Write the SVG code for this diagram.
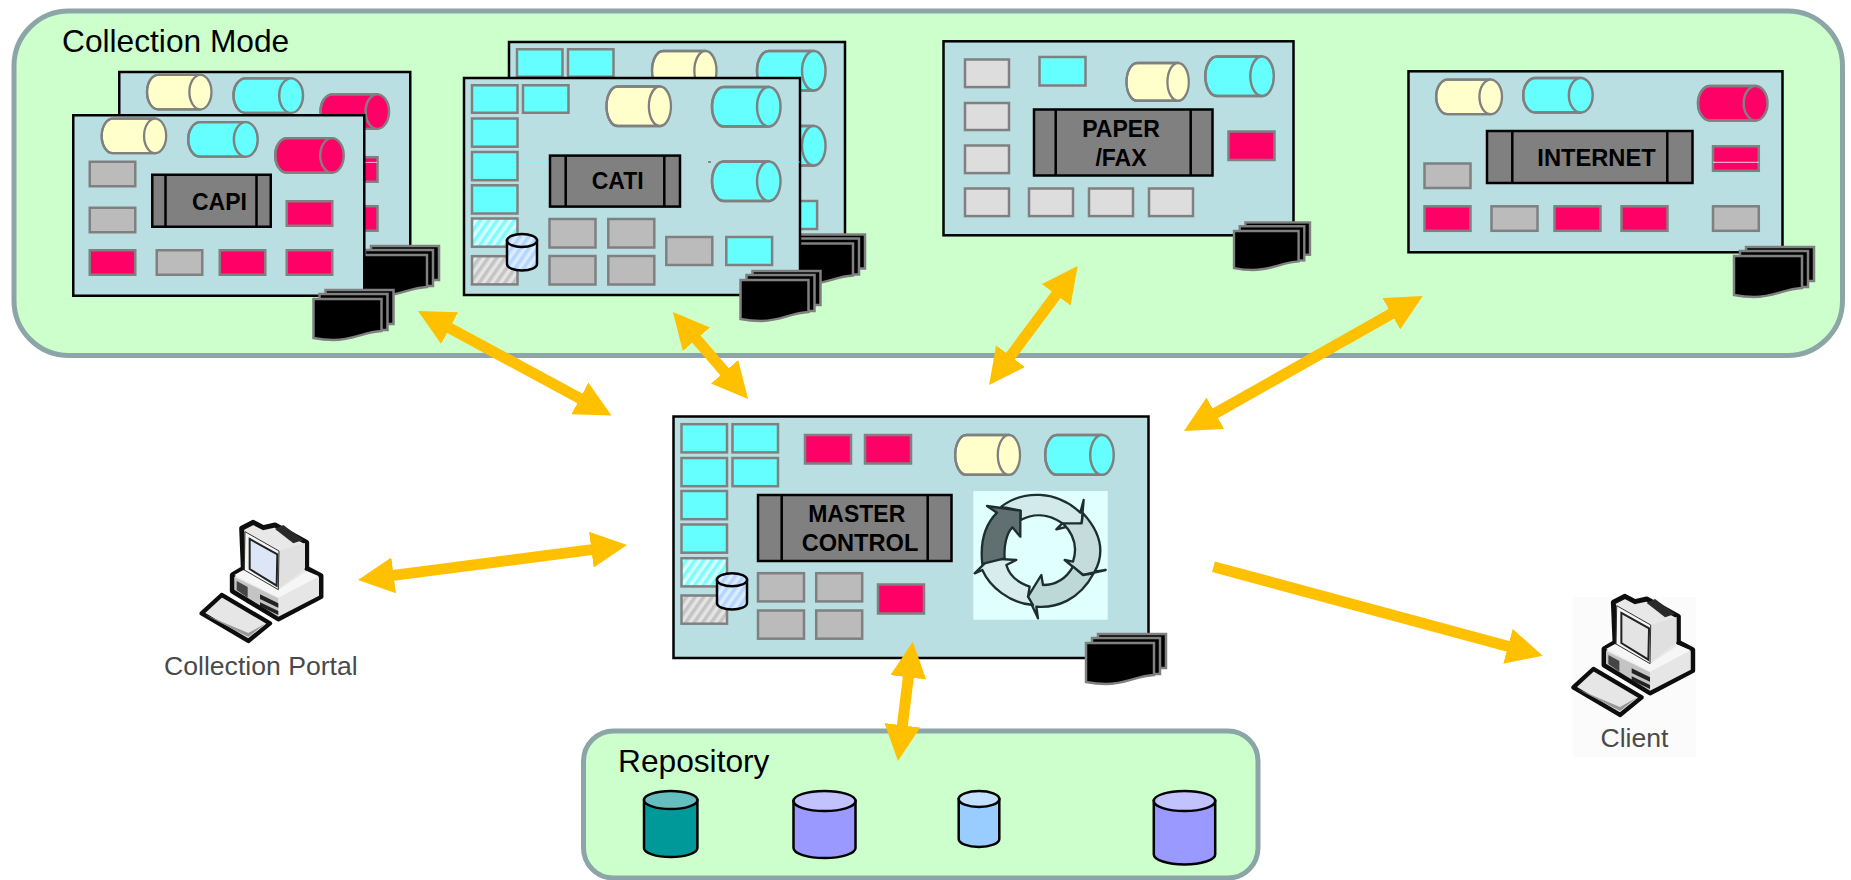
<svg xmlns="http://www.w3.org/2000/svg" width="1851" height="880" viewBox="0 0 1851 880">
<style>
text{font-family:"Liberation Sans",Arial,sans-serif}
.t{font-size:31.7px;fill:#000}
.b{font-size:23px;font-weight:bold;fill:#000}
.m{text-anchor:middle}
.cap{font-size:26.6px;fill:#4a4a4a}
.zone{fill:#ccffcc;stroke:#8ca6a8;stroke-width:5}
.card{fill:#b9dfe2;stroke:#000;stroke-width:2.5}
.bar{fill:#808080;stroke:#000;stroke-width:2.5}
rect.g,rect.p,rect.c,rect.l,rect.hc,rect.hg,.cy{stroke:#808080;stroke-width:2.5}
.g{fill:#bbb}.p{fill:#ff0066}.c{fill:#66ffff}.l{fill:#ddd}.y{fill:#ffffcc}
.hc{fill:url(#hatchC)}.hg{fill:url(#hatchG)}
.db{stroke:#000;stroke-width:2.5}
.dbh{fill:url(#hatchB)}
.doc{fill:#000;stroke:#808080;stroke-width:2.5}
.conn{fill:none;stroke:#ffc000;stroke-width:11}
.seg{stroke:#1f2f2f;stroke-width:7;stroke-linejoin:round}
.pc{stroke:#111;stroke-linejoin:round}
</style>
<defs>
<pattern id="hatchC" width="7" height="7" patternUnits="userSpaceOnUse" patternTransform="rotate(35)"><rect width="7" height="7" fill="#d8ffff"/><rect width="3.5" height="7" fill="#7cfcff"/></pattern>
<pattern id="hatchG" width="7" height="7" patternUnits="userSpaceOnUse" patternTransform="rotate(35)"><rect width="7" height="7" fill="#e4e4e4"/><rect width="3.5" height="7" fill="#c4c4c4"/></pattern>
<pattern id="hatchB" width="7" height="7" patternUnits="userSpaceOnUse" patternTransform="rotate(35)"><rect width="7" height="7" fill="#dcecff"/><rect width="3.5" height="7" fill="#b4d6ff"/></pattern>
<marker id="head" markerUnits="userSpaceOnUse" markerWidth="36" markerHeight="36" viewBox="0 0 36 36" refX="16" refY="18" orient="auto-start-reverse"><path d="M0,0 L36,18 L0,36 Z" fill="#ffc000"/></marker>
<filter id="soft" x="-5%" y="-5%" width="110%" height="110%"><feGaussianBlur stdDeviation="0.6"/></filter>
<filter id="soft2" x="-5%" y="-5%" width="110%" height="110%"><feGaussianBlur stdDeviation="1"/></filter>
<g id="cyl"><path class="cy" d="M58,0 H12 A12,19 0 0 0 12,38 H58 Z" stroke-width="0"/><path class="cy" d="M58,0 H12 A12,19 0 0 0 12,38 H58" fill="none"/><ellipse class="cy" cx="58" cy="19" rx="12" ry="19"/></g>
<g id="docs"><rect class="doc" x="12" y="-9" width="68" height="34"/><rect class="doc" x="6" y="-5" width="68" height="36"/><path class="doc" d="M0,0 H68 V32 C50,33 40,41 20,41 C10,41 5,40 0,39 Z"/></g>
<g id="computer">
<path class="pc" fill="#e8e8e8" stroke-width="15" d="M140,40 L175,22 L205,38 L240,30 L335,82 L335,160 L378,182 L378,245 L250,312 L112,228 L112,180 L145,160 Z"/>
<path fill="#f6f6f6" d="M118,180 L145,165 L250,225 L335,168 L372,184 L250,248 Z"/>
<path fill="#c4c4c4" d="M118,186 L250,250 L250,305 L118,224 Z"/>
<path fill="#e6e6e6" d="M250,250 L372,186 L372,242 L250,305 Z"/>
<path fill="#444" d="M125,198 L158,216 L158,248 L125,225 Z"/>
<path fill="#222" d="M195,238 L250,265 L250,278 L195,252 Z M195,262 L250,288 L250,300 L195,274 Z"/>
<path fill="#e0e0e0" d="M252,108 L330,84 L330,160 L250,222 Z"/>
<path fill="#f4f4f4" stroke="#333" stroke-width="3" d="M150,50 L252,108 L250,224 L148,165 Z"/>
<path fill="currentColor" stroke="#222" stroke-width="6" d="M164,72 L247,118 L245,212 L164,162 Z"/>
<path fill="#2c2c2c" d="M240,42 L265,30 L325,75 L295,85 Z"/>
<path class="pc" fill="#e6e6e6" stroke-width="13" d="M20,295 L80,240 L225,325 L160,378 Z"/>
<path fill="#999" d="M32,300 L160,366 L212,325 L160,354 Z"/>
</g>
</defs>

<g id="collection-mode">
<rect class="zone" x="14" y="11" width="1828.5" height="344.5" rx="55"/>
<text class="t" x="62" y="52">Collection Mode</text>
</g>

<g id="capi-back">
<rect class="card" x="119.25" y="72" width="291" height="180.5"/>
<use href="#cyl" class="y" transform="translate(147,74.8) scale(.921,.908)"/>
<use href="#cyl" class="c" transform="translate(233.5,78.3) scale(.993,.908)"/>
<use href="#cyl" class="p" transform="translate(320.5,94.3) scale(.979,.908)"/>
<rect class="p" x="332" y="157.2" width="45.5" height="24.5"/>
<rect class="p" x="332" y="206.2" width="45.5" height="24.5"/>
<path d="M365,162.4 H377" stroke="#fff" stroke-width="0.7"/>
<use href="#docs" x="359" y="255"/>
</g>
<g id="capi">
<rect class="card" x="73.25" y="115.25" width="291" height="180.5"/>
<use href="#cyl" class="y" transform="translate(101.7,118.7) scale(.921,.908)"/>
<use href="#cyl" class="c" transform="translate(188.2,122.2) scale(.993,.908)"/>
<use href="#cyl" class="p" transform="translate(275.2,138.2) scale(.979,.908)"/>
<rect class="g" x="89.75" y="161.75" width="45.5" height="24.5"/>
<rect class="g" x="89.75" y="207.75" width="45.5" height="24.5"/>
<rect class="p" x="286.75" y="201.25" width="45.5" height="24.5"/>
<rect class="p" x="89.75" y="250.25" width="45.5" height="24.5"/>
<rect class="g" x="156.75" y="250.25" width="45.5" height="24.5"/>
<rect class="p" x="219.75" y="250.25" width="45.5" height="24.5"/>
<rect class="p" x="286.75" y="250.25" width="45.5" height="24.5"/>
<rect class="bar" x="152.25" y="174.75" width="118.5" height="52"/>
<path d="M165.5,175 V226.5 M256.5,175 V226.5" stroke="#000" stroke-width="2.5"/>
<text class="b" x="192" y="210">CAPI</text>
<use href="#docs" x="313.5" y="299"/>
</g>

<g id="cati-back">
<rect class="card" x="509" y="42" width="336" height="217"/>
<rect class="c" x="517" y="49.25" width="45.5" height="27.5"/>
<rect class="c" x="568" y="49.25" width="45.5" height="27.5"/>
<use href="#cyl" class="y" transform="translate(652,51) scale(.921,1.04)"/>
<use href="#cyl" class="c" transform="translate(757,51) scale(.979,1.04)"/>
<use href="#cyl" class="c" transform="translate(757,126) scale(.979,1.04)"/>
<rect class="c" x="771.3" y="201" width="45.8" height="28"/>
<use href="#docs" x="785" y="243.5"/>
</g>
<g id="cati">
<rect class="card" x="464" y="78" width="336" height="217"/>
<path d="M518,162 H549 M775,162 H800" stroke="#66ffff" stroke-width="0.7"/>
<path d="M708,162 H711" stroke="#000" stroke-width="0.7"/>
<rect class="c" x="472" y="85.25" width="45.5" height="27.5"/>
<rect class="c" x="523" y="85.25" width="45.5" height="27.5"/>
<rect class="c" x="472" y="118.5" width="45.5" height="28.2"/>
<rect class="c" x="472" y="152" width="45.5" height="28.2"/>
<rect class="c" x="472" y="185.3" width="45.5" height="28.2"/>
<rect class="hc" x="472" y="218.5" width="45.5" height="28.2"/>
<rect class="hg" x="472" y="256.2" width="45.5" height="28.2"/>
<path class="db dbh" d="M507,240.5 V264 A15,6.5 0 0 0 537,264 V240.5 Z"/>
<ellipse class="db dbh" cx="522" cy="240.5" rx="15" ry="6.5"/>
<rect class="g" x="549.5" y="219" width="46" height="28.5"/>
<rect class="g" x="608.3" y="219" width="46" height="28.5"/>
<rect class="g" x="549.5" y="256" width="46" height="28.5"/>
<rect class="g" x="608.3" y="256" width="46" height="28.5"/>
<rect class="g" x="666.3" y="237" width="46" height="28"/>
<rect class="c" x="726.3" y="237" width="45.8" height="28"/>
<rect class="bar" x="550" y="155.6" width="130" height="51"/>
<path d="M565.7,156 V206 M664.3,156 V206" stroke="#000" stroke-width="2.5"/>
<text class="b" x="591.7" y="189.3">CATI</text>
<use href="#cyl" class="y" transform="translate(606.5,86.5) scale(.921,1.04)"/>
<use href="#cyl" class="c" transform="translate(712,87) scale(.979,1.04)"/>
<use href="#cyl" class="c" transform="translate(712,161.5) scale(.979,1.04)"/>
<use href="#docs" x="740.5" y="280"/>
</g>

<g id="paper-fax">
<rect class="card" x="943.5" y="41.3" width="350" height="194"/>
<rect class="l" x="965" y="59.5" width="44" height="27.6"/>
<rect class="l" x="965" y="103" width="44" height="27"/>
<rect class="l" x="965" y="145.5" width="44" height="27.6"/>
<rect class="l" x="965" y="188.5" width="44" height="27.6"/>
<rect class="l" x="1029" y="188.5" width="44" height="27.6"/>
<rect class="l" x="1089" y="188.5" width="44" height="27.6"/>
<rect class="l" x="1149" y="188.5" width="44" height="27.6"/>
<rect class="c" x="1039.5" y="57" width="46" height="28.5"/>
<rect class="p" x="1228.5" y="131.5" width="46" height="28.5"/>
<use href="#cyl" class="y" transform="translate(1126.5,63) scale(.89,.995)"/>
<use href="#cyl" class="c" transform="translate(1205.3,56.5) scale(.979,1.04)"/>
<rect class="bar" x="1034" y="109.5" width="178.5" height="66"/>
<path d="M1055.7,110 V175 M1190.7,110 V175" stroke="#000" stroke-width="2.5"/>
<text class="b m" x="1121" y="136.7">PAPER</text>
<text class="b m" x="1121" y="165.7">/FAX</text>
<use href="#docs" transform="translate(1234,231) scale(.95)"/>
</g>

<g id="internet">
<rect class="card" x="1408.5" y="71.3" width="374" height="181"/>
<use href="#cyl" class="y" transform="translate(1436.2,79.6) scale(.94,.908)"/>
<use href="#cyl" class="c" transform="translate(1523.2,78) scale(.993,.908)"/>
<use href="#cyl" class="p" transform="translate(1698,86) scale(.993,.908)"/>
<rect class="p" x="1713" y="146.3" width="45.8" height="24.5"/>
<path d="M1713,162.3 H1758.8" stroke="#fff" stroke-width="0.8"/>
<rect class="g" x="1424.5" y="163.5" width="46" height="24.5"/>
<rect class="p" x="1424.5" y="206.3" width="46" height="24.5"/>
<rect class="g" x="1491.5" y="206.3" width="46" height="24.5"/>
<rect class="p" x="1554.5" y="206.3" width="46" height="24.5"/>
<rect class="p" x="1621.5" y="206.3" width="46" height="24.5"/>
<rect class="g" x="1713" y="206.3" width="45.8" height="24.5"/>
<rect class="bar" x="1487" y="131" width="205.5" height="52"/>
<path d="M1512.3,131.5 V182.5 M1667.3,131.5 V182.5" stroke="#000" stroke-width="2.5"/>
<text class="b" x="1537.3" y="165.7" style="font-size:23.7px">INTERNET</text>
<use href="#docs" x="1734" y="256"/>
</g>

<g id="master-control">
<rect class="card" x="673.5" y="416.5" width="475" height="241.5"/>
<rect class="c" x="681.5" y="424.2" width="45.5" height="28.2"/>
<rect class="c" x="732.5" y="424.2" width="45.5" height="28.2"/>
<rect class="c" x="681.5" y="458" width="45.5" height="28.2"/>
<rect class="c" x="732.5" y="458" width="45.5" height="28.2"/>
<rect class="c" x="681.5" y="491" width="45.5" height="28.2"/>
<rect class="c" x="681.5" y="524.5" width="45.5" height="28.2"/>
<rect class="hc" x="681.5" y="558.2" width="45.5" height="28.2"/>
<rect class="hg" x="681.5" y="595.5" width="45.5" height="28.2"/>
<path class="db dbh" d="M717,579.8 V603 A15,6.5 0 0 0 747,603 V579.8 Z"/>
<ellipse class="db dbh" cx="732" cy="579.8" rx="15" ry="6.5"/>
<rect class="p" x="805" y="435" width="46" height="28.5"/>
<rect class="p" x="865" y="435" width="46" height="28.5"/>
<use href="#cyl" class="y" transform="translate(955.2,435) scale(.926,1.047)"/>
<use href="#cyl" class="c" transform="translate(1045.2,435) scale(.979,1.047)"/>
<rect class="bar" x="758" y="495" width="193.5" height="66"/>
<path d="M781.7,495.5 V560.5 M927.7,495.5 V560.5" stroke="#000" stroke-width="2.5"/>
<text class="b m" x="856.7" y="521.7">MASTER</text>
<text class="b m" x="860" y="550.7" style="font-size:23.6px">CONTROL</text>
<rect class="g" x="758" y="573.2" width="46" height="28.2"/>
<rect class="g" x="816.2" y="573.2" width="46" height="28.2"/>
<rect class="g" x="758" y="610.5" width="46" height="28.2"/>
<rect class="g" x="816.2" y="610.5" width="46" height="28.2"/>
<rect class="p" x="878" y="584.5" width="46" height="29"/>
<rect x="973.3" y="491" width="134.4" height="128.7" fill="#e0ffff"/>
<g id="cycle" transform="translate(973,490) scale(.3333)" filter="url(#soft)">
<path class="seg" fill="#d2eaec" d="M85,50 C150,0 250,0 322,68 L332,30 L326,100 L250,118 L268,100 C225,70 180,70 143,90 L143,62 Z"/>
<path class="seg" fill="#c4dcde" d="M330,70 C385,130 395,190 365,245 L398,240 L330,255 L275,210 L300,215 C315,170 300,130 270,100 L326,100 Z"/>
<path class="seg" fill="#bcd8d8" d="M362,250 C320,330 250,355 190,350 L195,385 L165,320 L205,255 L210,285 C250,285 280,265 300,230 L330,255 Z"/>
<path class="seg" fill="#d6ecee" d="M180,345 C110,340 50,290 28,240 L5,250 L50,205 L130,210 L100,225 C110,260 140,280 170,290 L165,320 Z"/>
<path class="seg" fill="#607070" d="M28,222 C20,150 40,100 72,68 L42,48 L142,62 L142,140 L118,112 C100,130 92,170 95,205 Z"/>
</g>
<use href="#docs" x="1086" y="643"/>
</g>

<g id="collection-portal">
<use href="#computer" color="#dde6f6" transform="translate(195,515) scale(.3333)" filter="url(#soft)"/>
<text class="cap" x="164" y="675">Collection Portal</text>
</g>

<g id="client">
<rect x="1573" y="597" width="123" height="160" fill="#fbfbfb"/>
<use href="#computer" color="#e4e4e4" transform="translate(1566.7,589) scale(.3333)" filter="url(#soft2)"/>
<text class="cap" x="1600.5" y="746.7">Client</text>
</g>

<g id="repository">
<rect class="zone" x="583.5" y="731" width="674.5" height="147" rx="30"/>
<text class="t" x="618" y="771.7">Repository</text>
<g id="db1"><path class="db" fill="#009999" d="M644,800 V848 A26.7,9 0 0 0 697.4,848 V800 Z"/><ellipse class="db" fill="#66bfbf" cx="670.7" cy="800" rx="26.7" ry="9"/></g>
<g id="db2"><path class="db" fill="#9999ff" d="M793.5,801 V848 A31,10 0 0 0 855.5,848 V801 Z"/><ellipse class="db" fill="#c2c2ff" cx="824.5" cy="801" rx="31" ry="10"/></g>
<g id="db3"><path class="db" fill="#99ccff" d="M958.7,799 V839 A20.3,8 0 0 0 999.3,839 V799 Z"/><ellipse class="db" fill="#c2e0ff" cx="979" cy="799" rx="20.3" ry="8"/></g>
<g id="db4"><path class="db" fill="#9999ff" d="M1153.8,801 V854.5 A30.7,10 0 0 0 1215.2,854.5 V801 Z"/><ellipse class="db" fill="#c2c2ff" cx="1184.5" cy="801" rx="30.7" ry="10"/></g>
</g>

<g id="connectors">
<path class="conn" marker-start="url(#head)" marker-end="url(#head)" d="M435.6,320.5 L593.9,406"/>
<path class="conn" marker-start="url(#head)" marker-end="url(#head)" d="M686,327.1 L735,383.9"/>
<path class="conn" marker-start="url(#head)" marker-end="url(#head)" d="M1065.7,282 L1001,369"/>
<path class="conn" marker-start="url(#head)" marker-end="url(#head)" d="M1405.3,305.9 L1201.4,421.1"/>
<path class="conn" marker-start="url(#head)" marker-end="url(#head)" d="M377.8,577.4 L607.2,547.6"/>
<path class="conn" marker-end="url(#head)" d="M1213.5,566.7 L1523.4,650.5"/>
<path class="conn" marker-start="url(#head)" marker-end="url(#head)" d="M910.3,661.5 L900.4,741.2"/>
</g>
</svg>
